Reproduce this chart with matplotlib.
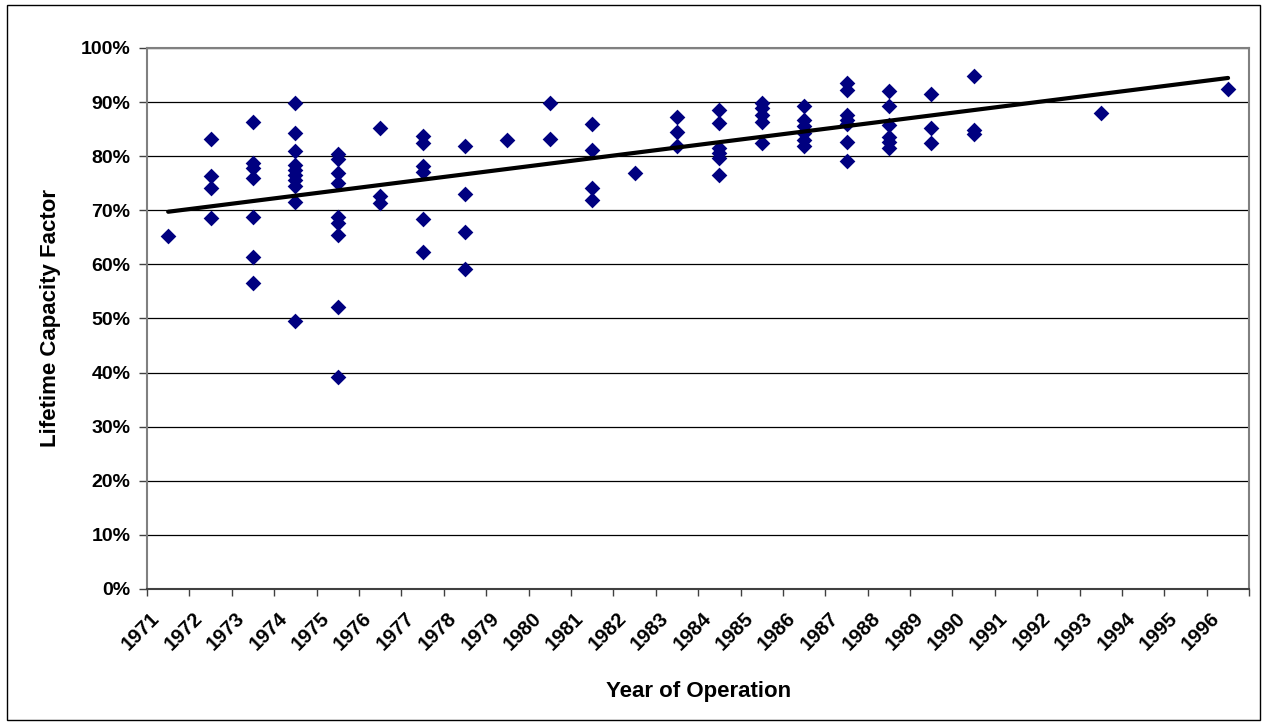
import numpy as np
import matplotlib

matplotlib.use('Agg')
import matplotlib.pyplot as plt
import matplotlib.transforms as mtransforms
from matplotlib.patches import Rectangle
from matplotlib.ticker import PercentFormatter

# Lifetime capacity factor (%) per unit, grouped by first year of operation
years = [1971,
         1972, 1972, 1972, 1972,
         1973, 1973, 1973, 1973, 1973, 1973, 1973,
         1974, 1974, 1974, 1974, 1974, 1974, 1974, 1974, 1974, 1974,
         1975, 1975, 1975, 1975, 1975, 1975, 1975, 1975, 1975,
         1976, 1976, 1976,
         1977, 1977, 1977, 1977, 1977, 1977,
         1978, 1978, 1978, 1978,
         1979,
         1980, 1980,
         1981, 1981, 1981, 1981,
         1982,
         1983, 1983, 1983,
         1984, 1984, 1984, 1984, 1984, 1984,
         1985, 1985, 1985, 1985, 1985,
         1986, 1986, 1986, 1986, 1986, 1986,
         1987, 1987, 1987, 1987, 1987, 1987, 1987,
         1988, 1988, 1988, 1988, 1988, 1988,
         1989, 1989, 1989,
         1990, 1990, 1990,
         1993,
         1996]

capacity_factor = [65.3,
                   83.2, 76.4, 74.2, 68.6,
                   86.3, 78.7, 77.8, 75.9, 68.7, 61.4, 56.5,
                   89.8, 84.2, 81.0, 78.4, 77.4, 76.5, 75.6, 74.4, 71.6, 49.6,
                   80.4, 79.5, 76.8, 75.0, 68.7, 67.7, 65.4, 52.2, 39.1,
                   85.2, 72.7, 71.3,
                   83.7, 82.4, 78.1, 77.1, 68.4, 62.3,
                   81.9, 73.0, 65.9, 59.1,
                   82.9,
                   89.8, 83.1,
                   86.0, 81.1, 74.2, 71.9,
                   76.8,
                   87.2, 84.4, 81.9,
                   88.5, 86.1, 81.5, 80.5, 79.6, 76.5,
                   89.8, 88.9, 87.6, 86.4, 82.4,
                   89.2, 86.7, 85.5, 84.2, 83.0, 81.8,
                   93.5, 92.2, 87.6, 86.7, 85.9, 82.7, 79.1,
                   92.0, 89.3, 85.8, 83.6, 82.7, 81.5,
                   91.4, 85.2, 82.4,
                   94.9, 84.8, 84.1,
                   87.9,
                   92.5]

year_labels = [str(y) for y in range(1971, 1997)]

plt.rcParams['font.family'] = ['Liberation Sans', 'DejaVu Sans']

fig = plt.figure(figsize=(12.67, 7.27), dpi=100)
ax = fig.add_axes([0.116, 0.19, 0.870, 0.744])

# points sit in the middle of each year's slot
x = np.array(years) + 0.5
y = np.array(capacity_factor)

ax.scatter(x, y, marker='D', s=64, color='#000080', zorder=3, linewidths=0)

# linear trend line over the data range
slope, intercept = np.polyfit(x, y, 1)
xt = np.array([x.min(), x.max()])
ax.plot(xt, slope * xt + intercept, color='black', lw=3, zorder=4,
        solid_capstyle='round')

ax.set_xlim(1971, 1997)
ax.set_ylim(0, 100)
ax.set_yticks(np.arange(0, 101, 10))
ax.yaxis.set_major_formatter(PercentFormatter(decimals=0))
ax.set_xticks(np.arange(1971, 1998))
ax.set_xticklabels(year_labels + [''], rotation=45, ha='right', va='center',
                   rotation_mode='anchor')

ax.grid(axis='y', color='black', lw=0.9)
ax.set_axisbelow(True)
for side in ['left', 'right', 'top']:
    ax.spines[side].set_color('#808080')
    ax.spines[side].set_linewidth(1.5)
ax.spines['bottom'].set_color('#404040')
ax.spines['bottom'].set_linewidth(1.5)

ax.tick_params(axis='y', length=6, width=1, color='#404040', labelsize=14, pad=6)
ax.tick_params(axis='x', length=5, width=1, color='#404040', labelsize=14.5, pad=14)

# shift the slanted year labels a little to the right, as in the original
shift = mtransforms.ScaledTranslation(0.1, 0, fig.dpi_scale_trans)
for lab in ax.get_xticklabels():
    lab.set_fontweight('bold')
    lab.set_transform(lab.get_transform() + shift)
for lab in ax.get_yticklabels():
    lab.set_fontweight('bold')

ax.set_ylabel('Lifetime Capacity Factor', fontsize=16, fontweight='bold', labelpad=14)
ax.set_xlabel('Year of Operation', fontsize=16, fontweight='bold', labelpad=20)

# thin frame round the whole chart
fig.patches.append(Rectangle((0.0055, 0.01), 0.989, 0.983, transform=fig.transFigure,
                             fill=False, edgecolor='black', lw=1))

plt.savefig('out.png', dpi=100)
plt.close()
